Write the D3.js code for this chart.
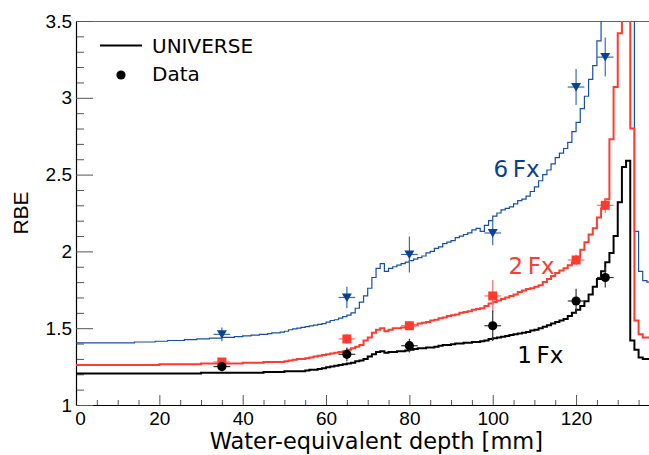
<!DOCTYPE html>
<html>
<head>
<meta charset="utf-8">
<script src="https://cdn.jsdelivr.net/npm/d3@7"></script>
<style>
  html, body { margin: 0; padding: 0; background: #ffffff; }
  svg { display: block; }
</style>
</head>
<body>
<svg id="chart" width="649" height="455"></svg>
<script>
// ---------------- data ----------------
// histogram bins: 1 mm wide, bin i spans [i, i+1] mm
const rbe1Fx = [
  1.205,1.205,1.205,1.205,1.205,1.205,1.205,1.205,1.205,1.205,
  1.205,1.205,1.205,1.205,1.205,1.205,1.205,1.205,1.205,1.205,
  1.205,1.205,1.205,1.205,1.205,1.205,1.205,1.205,1.205,1.205,
  1.21,1.21,1.21,1.21,1.21,1.21,1.21,1.21,1.21,1.21,
  1.21,1.21,1.21,1.21,1.21,1.215,1.215,1.215,1.215,1.215,
  1.22,1.22,1.22,1.22,1.22,1.225,1.23,1.23,1.235,1.24,
  1.245,1.25,1.255,1.26,1.265,1.27,1.275,1.285,1.29,1.30,
  1.315,1.33,1.345,1.35,1.34,1.345,1.345,1.35,1.35,1.355,
  1.36,1.365,1.37,1.37,1.375,1.375,1.38,1.385,1.39,1.39,
  1.395,1.40,1.40,1.405,1.405,1.41,1.41,1.415,1.42,1.43,
  1.435,1.44,1.445,1.45,1.455,1.46,1.465,1.47,1.475,1.485,
  1.49,1.50,1.51,1.52,1.53,1.54,1.55,1.56,1.58,1.60,
  1.62,1.645,1.675,1.72,1.77,1.82,1.87,1.93,1.99,2.10,
  2.32,2.55,2.59,1.42,1.36,1.31,1.30,1.30
];
const rbe2Fx = [
  1.26,1.26,1.26,1.26,1.26,1.26,1.26,1.26,1.26,1.26,
  1.26,1.26,1.26,1.26,1.26,1.26,1.26,1.26,1.26,1.26,
  1.265,1.265,1.265,1.265,1.265,1.265,1.265,1.265,1.265,1.265,
  1.27,1.27,1.27,1.27,1.27,1.27,1.27,1.27,1.27,1.27,
  1.275,1.275,1.275,1.275,1.275,1.28,1.28,1.28,1.28,1.28,
  1.285,1.29,1.295,1.30,1.30,1.305,1.31,1.315,1.32,1.325,
  1.33,1.335,1.34,1.345,1.35,1.36,1.37,1.38,1.39,1.42,
  1.44,1.47,1.49,1.50,1.48,1.49,1.50,1.50,1.505,1.51,
  1.515,1.52,1.53,1.535,1.54,1.55,1.555,1.565,1.57,1.58,
  1.585,1.59,1.60,1.605,1.61,1.62,1.625,1.63,1.645,1.66,
  1.67,1.68,1.69,1.70,1.71,1.72,1.735,1.745,1.755,1.76,
  1.77,1.78,1.80,1.82,1.84,1.86,1.875,1.89,1.91,1.93,
  1.96,2.01,2.06,2.11,2.15,2.22,2.28,2.34,2.73,3.07,
  3.42,3.75,3.85,2.80,1.55,1.46,1.44,1.44
];
const rbe6Fx = [
  1.405,1.405,1.405,1.405,1.405,1.405,1.405,1.405,1.405,1.405,
  1.405,1.405,1.405,1.405,1.41,1.41,1.41,1.41,1.41,1.415,
  1.415,1.415,1.42,1.42,1.42,1.42,1.425,1.425,1.425,1.43,
  1.43,1.43,1.435,1.435,1.435,1.44,1.44,1.44,1.445,1.445,
  1.45,1.45,1.455,1.455,1.46,1.46,1.465,1.47,1.47,1.475,
  1.48,1.49,1.495,1.50,1.505,1.51,1.515,1.52,1.525,1.53,
  1.54,1.55,1.555,1.565,1.575,1.585,1.60,1.63,1.67,1.71,
  1.76,1.83,1.89,1.92,1.87,1.89,1.90,1.91,1.92,1.93,
  1.94,1.95,1.96,1.97,1.99,2.00,2.02,2.03,2.05,2.06,
  2.07,2.09,2.10,2.11,2.12,2.14,2.15,2.13,2.17,2.20,
  2.23,2.25,2.27,2.28,2.29,2.31,2.33,2.34,2.36,2.39,
  2.42,2.46,2.50,2.53,2.57,2.61,2.64,2.67,2.71,2.78,
  2.84,2.93,3.01,3.12,3.21,3.37,3.6,3.9,4.3,4.8,
  5.3,5.8,6.0,5.0,2.13,1.87,1.81,1.80
];

// measured data points
const dataDepth = [35, 65, 80, 100, 120, 127];
const depthErr  = [2, 2, 2, 2, 2, 2];
const data1Fx = [1.25, 1.33, 1.386, 1.516, 1.677, 1.83];
const err1Fx  = [0.03, 0.045, 0.045, 0.10, 0.08, 0.065];
const data2Fx = [1.28, 1.43, 1.516, 1.71, 1.944, 2.30];
const err2Fx  = [0.02, 0.033, 0.03, 0.104, 0.036, 0.05];
const data6Fx = [1.46, 1.70, 1.98, 2.12, 3.07, 3.265];
const err6Fx  = [0.045, 0.07, 0.117, 0.08, 0.117, 0.127];

const xMajorTicks = [0, 20, 40, 60, 80, 100, 120];
const yMajorTicks = [1, 1.5, 2, 2.5, 3, 3.5];
const yTickLabels = ["1", "1.5", "2", "2.5", "3", "3.5"];
const legendLabels = ["UNIVERSE", "Data"];
const seriesLabels = ["1\u2009Fx", "2\u2009Fx", "6\u2009Fx"];

// ---------------- layout ----------------
const pL = 76, pR = 649, pT = 21, pB = 405;
const xDomainMax = 137.5;

const svg = d3.select("#chart");
const x = d3.scaleLinear().domain([0, xDomainMax]).range([pL, pR]);
const y = d3.scaleLinear().domain([1, 3.5]).range([pB, pT]);

const colRed = "#ff3b30";
const colBlue = "#1650a6";
const colBlueMarker = "#0a4396";

svg.append("defs").append("clipPath").attr("id", "plotclip")
  .append("rect").attr("x", pL).attr("y", pT)
  .attr("width", pR - pL).attr("height", pB - pT);

// ---------------- axes ----------------
const tickFont = "'Liberation Sans', Arial, Helvetica, sans-serif";
const textFont = "'DejaVu Sans', Verdana, sans-serif";

// top frame line
svg.append("line").attr("x1", pL).attr("x2", pR)
  .attr("y1", pT + 0.5).attr("y2", pT + 0.5)
  .attr("stroke", "#666").attr("stroke-width", 1);

// minor x ticks
const xMinor = d3.range(0, xDomainMax + 0.01, 5).filter(v => v % 20 !== 0);
svg.append("g").attr("transform", `translate(0,${pB})`)
  .call(d3.axisBottom(x).tickValues(xMinor).tickSizeInner(-5).tickSizeOuter(0).tickFormat(""))
  .call(g => g.select(".domain").remove())
  .call(g => g.selectAll(".tick line").attr("stroke", "#555"));
// major x ticks
svg.append("g").attr("transform", `translate(0,${pB})`)
  .call(d3.axisBottom(x).tickValues(xMajorTicks).tickSizeInner(-10).tickSizeOuter(0)
        .tickPadding(7).tickFormat(d3.format("d")))
  .call(g => g.select(".domain").attr("stroke", "#000").attr("stroke-width", 1.2))
  .call(g => g.selectAll(".tick line").attr("stroke", "#555"))
  .call(g => g.selectAll(".tick text").attr("font-family", tickFont)
        .attr("font-size", 19).attr("fill", "#000"))
  .call(g => g.selectAll(".tick text").filter(d => d === 0).attr("dx", 4));

// minor y ticks
const yMinor = d3.range(1.1, 3.5, 0.1).filter(v => Math.abs(v * 2 - Math.round(v * 2)) > 1e-6);
svg.append("g").attr("transform", `translate(${pL},0)`)
  .call(d3.axisLeft(y).tickValues(yMinor).tickSizeInner(-8).tickSizeOuter(0).tickFormat(""))
  .call(g => g.select(".domain").remove())
  .call(g => g.selectAll(".tick line").attr("stroke", "#555"));
// major y ticks
svg.append("g").attr("transform", `translate(${pL},0)`)
  .call(d3.axisLeft(y).tickValues(yMajorTicks).tickSizeInner(-17).tickSizeOuter(0)
        .tickPadding(4).tickFormat((d, i) => yTickLabels[i]))
  .call(g => g.select(".domain").attr("stroke", "#000").attr("stroke-width", 1.2))
  .call(g => g.selectAll(".tick line").attr("stroke", "#555"))
  .call(g => g.selectAll(".tick text").attr("font-family", tickFont)
        .attr("font-size", 19).attr("fill", "#000"));

// axis titles
svg.append("text")
  .attr("x", 543).attr("y", 448.5)
  .attr("text-anchor", "end")
  .attr("font-family", textFont).attr("font-size", 22.5)
  .attr("fill", "#000")
  .text("Water-equivalent depth [mm]");

svg.append("text")
  .attr("transform", "translate(28,213) rotate(-90)")
  .attr("text-anchor", "middle")
  .attr("font-family", tickFont).attr("font-size", 21)
  .attr("fill", "#000")
  .text("RBE");

// ---------------- histograms ----------------
const plot = svg.append("g").attr("clip-path", "url(#plotclip)");
const stepLine = d3.line().x(d => x(d[0])).y(d => y(d[1])).curve(d3.curveStepAfter);
function histPoints(vals) {
  const pts = vals.map((v, i) => [i, v]);
  pts.push([vals.length, vals[vals.length - 1]]);
  return pts;
}
plot.append("path").datum(histPoints(rbe6Fx)).attr("d", stepLine)
  .attr("fill", "none").attr("stroke", colBlue).attr("stroke-width", 1.2);
plot.append("path").datum(histPoints(rbe2Fx)).attr("d", stepLine)
  .attr("fill", "none").attr("stroke", colRed).attr("stroke-width", 2);
plot.append("path").datum(histPoints(rbe1Fx)).attr("d", stepLine)
  .attr("fill", "none").attr("stroke", "#000").attr("stroke-width", 2);

// ---------------- data points ----------------
function drawPoints(vals, errs, barColor, markerFn) {
  const g = plot.append("g");
  dataDepth.forEach((d, i) => {
    const cx = x(d), cy = y(vals[i]);
    g.append("line").attr("x1", cx).attr("x2", cx)
      .attr("y1", y(vals[i] - errs[i])).attr("y2", y(vals[i] + errs[i]))
      .attr("stroke", barColor).attr("stroke-width", 1.2);
    g.append("line").attr("x1", x(d - depthErr[i])).attr("x2", x(d + depthErr[i]))
      .attr("y1", cy).attr("y2", cy)
      .attr("stroke", barColor).attr("stroke-width", 1.2);
    markerFn(g, cx, cy);
  });
}
drawPoints(data6Fx, err6Fx, "#3a6cb5", (g, cx, cy) =>
  g.append("path").attr("d", `M${cx - 5},${cy - 4} L${cx + 5},${cy - 4} L${cx},${cy + 4.5} Z`)
    .attr("fill", colBlueMarker));
drawPoints(data2Fx, err2Fx, "#ff6f66", (g, cx, cy) =>
  g.append("rect").attr("x", cx - 4.5).attr("y", cy - 4.5).attr("width", 9).attr("height", 9)
    .attr("fill", colRed));
drawPoints(data1Fx, err1Fx, "#333", (g, cx, cy) =>
  g.append("circle").attr("cx", cx).attr("cy", cy).attr("r", 4.6).attr("fill", "#000"));

// ---------------- series labels ----------------
const labelStyle = (t, c) => t.attr("font-family", textFont).attr("font-size", 23).attr("fill", c);
labelStyle(svg.append("text").attr("x", x(100.2)).attr("y", y(2.484)).text(seriesLabels[2]), "#0a3f93");
labelStyle(svg.append("text").attr("x", x(103.8)).attr("y", y(1.853)).text(seriesLabels[1]), colRed);
labelStyle(svg.append("text").attr("x", x(105.9)).attr("y", y(1.273)).text(seriesLabels[0]), "#000");

// ---------------- legend ----------------
const lg = svg.append("g");
lg.append("line").attr("x1", 100).attr("x2", 142).attr("y1", 45.5).attr("y2", 45.5)
  .attr("stroke", "#000").attr("stroke-width", 2);
lg.append("circle").attr("cx", 121).attr("cy", 75).attr("r", 4.6).attr("fill", "#000");
lg.selectAll("text.leg").data(legendLabels).enter().append("text")
  .attr("class", "leg")
  .attr("x", 152).attr("y", (d, i) => 53 + i * 28)
  .attr("font-family", textFont).attr("font-size", 20).attr("fill", "#000")
  .text(d => d);
</script>
</body>
</html>
